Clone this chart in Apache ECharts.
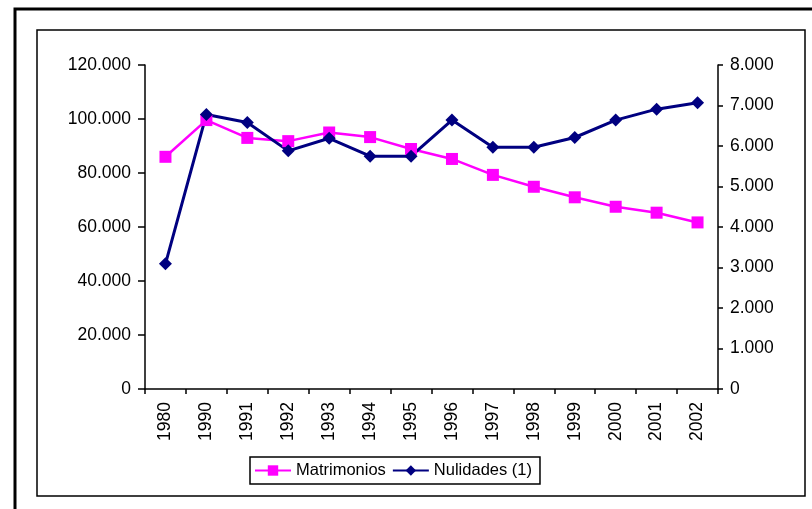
<!DOCTYPE html>
<html><head><meta charset="utf-8">
<script src="https://cdn.jsdelivr.net/npm/echarts@6/dist/echarts.min.js"></script>
<style>html,body{margin:0;padding:0;background:#fff}#c{width:812px;height:509px}</style>
</head><body><div id="c"></div>
<script>
const categories = ['1980','1990','1991','1992','1993','1994','1995','1996','1997','1998','1999','2000','2001','2002'];
const matrimonios = [86000, 99600, 93000, 91800, 95000, 93300, 88900, 85200, 79300, 74900, 71000, 67500, 65300, 61700];
const nulidades = [3090, 6780, 6580, 5880, 6190, 5750, 5750, 6640, 5970, 5970, 6210, 6640, 6910, 7070];
const leftTicks = [0, 20000, 40000, 60000, 80000, 100000, 120000];
const rightTicks = [0, 1000, 2000, 3000, 4000, 5000, 6000, 7000, 8000];

const fmt = v => v === 0 ? '0' : String(v).replace(/\B(?=(\d{3})+(?!\d))/g, '.');
const font = 'Liberation Sans, Arial, sans-serif';
const chart = echarts.init(document.getElementById('c'), null, {renderer: 'canvas'});
chart.setOption({
  animation: false,
  backgroundColor: '#fff',
  graphic: [
    {type: 'rect', shape: {x: 15, y: 9, width: 830, height: 530}, style: {fill: 'none', stroke: '#000', lineWidth: 3}},
    {type: 'rect', shape: {x: 37, y: 30, width: 768, height: 466}, style: {fill: 'none', stroke: '#000', lineWidth: 1.5}}
  ],
  grid: {left: 145, right: 94, top: 65, bottom: 120},
  legend: {
    left: 250, top: 457, width: 284, height: 28,
    padding: [5, 8, 5, 4],
    borderColor: '#000', borderWidth: 1.5,
    itemWidth: 36, itemHeight: 13, itemGap: 6,
    textStyle: {fontFamily: font, fontSize: 16.5, color: '#000'},
    data: ['Matrimonios', 'Nulidades (1)']
  },
  xAxis: {
    type: 'category', data: categories, boundaryGap: true,
    axisLine: {lineStyle: {color: '#000', width: 1.5}},
    axisTick: {show: true, inside: false, length: 5, lineStyle: {color: '#000', width: 1.5}},
    axisLabel: {rotate: 90, color: '#000', fontFamily: font, fontSize: 17.5, margin: 13, interval: 0},
    splitLine: {show: false}
  },
  yAxis: [
    {type: 'value', min: 0, max: 120000, interval: 20000,
     axisLine: {show: true, lineStyle: {color: '#000', width: 1.5}},
     axisTick: {show: true, length: 7, lineStyle: {color: '#000', width: 1.5}},
     axisLabel: {color: '#000', fontFamily: font, fontSize: 17.5, margin: 14, formatter: v => leftTicks.includes(v) ? fmt(v) : ''},
     splitLine: {show: false}},
    {type: 'value', min: 0, max: 8000, interval: 1000, position: 'right',
     axisLine: {show: true, lineStyle: {color: '#000', width: 1.5}},
     axisTick: {show: true, length: 5, lineStyle: {color: '#000', width: 1.5}},
     axisLabel: {color: '#000', fontFamily: font, fontSize: 17.5, margin: 12, formatter: v => rightTicks.includes(v) ? fmt(v) : ''},
     splitLine: {show: false}}
  ],
  series: [
    {name: 'Matrimonios', type: 'line', yAxisIndex: 0, data: matrimonios,
     symbol: 'rect', symbolSize: 12, color: '#FF00FF',
     lineStyle: {color: '#FF00FF', width: 2.5}, itemStyle: {color: '#FF00FF'}},
    {name: 'Nulidades (1)', type: 'line', yAxisIndex: 1, data: nulidades,
     symbol: 'diamond', symbolSize: 13, color: '#000080',
     lineStyle: {color: '#000080', width: 3}, itemStyle: {color: '#000080'}}
  ]
});
</script></body></html>
